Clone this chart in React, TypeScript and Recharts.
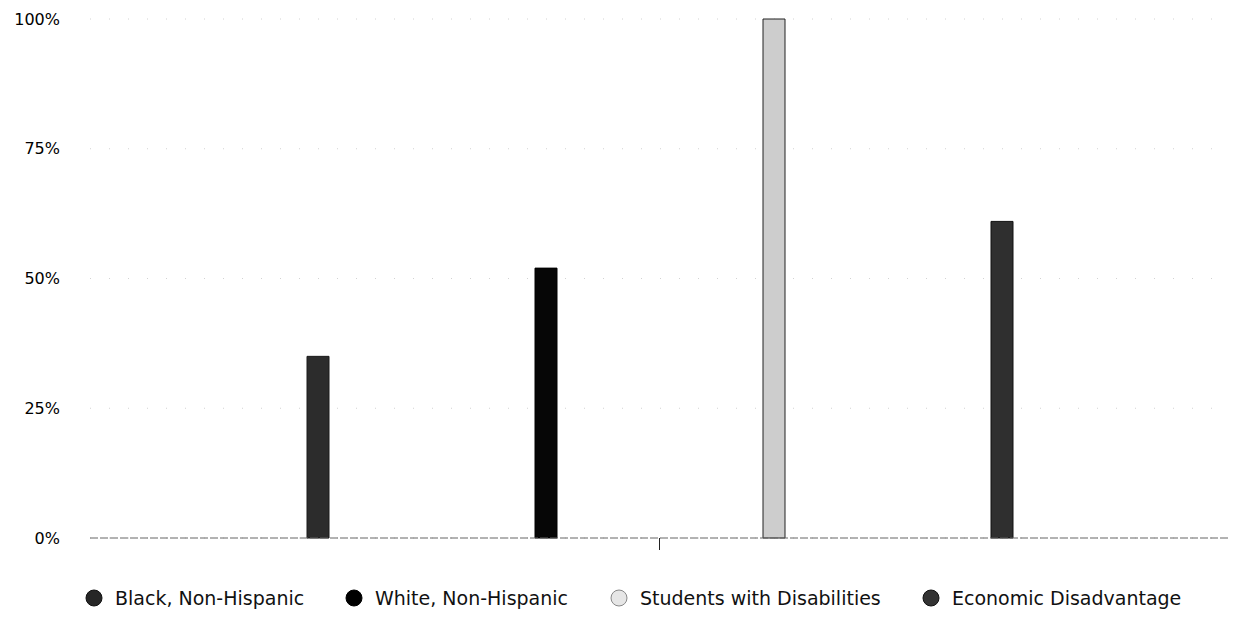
import React from "react";
import { BarChart, Bar, XAxis, YAxis, CartesianGrid, Legend } from "recharts";

const categories = [""];
const seriesNames = ["Black, Non-Hispanic", "White, Non-Hispanic", "Students with Disabilities", "Economic Disadvantage"];
const blackValues = [35];
const whiteValues = [52];
const disabilitiesValues = [100];
const economicValues = [61];
const yTicks = [0, 25, 50, 75, 100];

const seriesValues = [blackValues, whiteValues, disabilitiesValues, economicValues];
const seriesKeys = ["black", "white", "swd", "econ"];
const fills = ["#2c2c2c", "#060606", "#cdcdcd", "#2f2f2f"];
const strokes = ["#1a1a1a", "#000000", "#222222", "#111111"];
const iconFills = ["#262626", "#000000", "#e6e6e6", "#333333"];
const iconStrokes = ["#111", "#000", "#888", "#111"];

const data = categories.map((c, i) => {
  const row: Record<string, string | number> = { name: c };
  seriesKeys.forEach((k, j) => {
    row[k] = seriesValues[j][i];
  });
  return row;
});

const FONT = "'DejaVu Sans', sans-serif";

const LegendContent = () => (
  <div style={{ height: 51, position: "relative", fontFamily: FONT, fontSize: 19, color: "#111" }}>
    {seriesNames.map((n, i) => {
      const lefts = [85, 345, 610, 922];
      return (
        <div key={n} style={{ position: "absolute", left: lefts[i], top: 19, display: "flex", alignItems: "center", whiteSpace: "nowrap" }}>
          <svg width={18} height={18} style={{ marginRight: 12 }}>
            <circle cx={9} cy={9} r={8} fill={iconFills[i]} stroke={iconStrokes[i]} strokeWidth={1} />
          </svg>
          <span>{n}</span>
        </div>
      );
    })}
  </div>
);

const EmptyTick = () => <g />;

export default function App() {
  return (
    <div style={{ position: "absolute", left: 0, top: 0, width: 1240, height: 619, background: "#fff" }}>
      <BarChart
        width={1240}
        height={619}
        data={data}
        margin={{ top: 19, right: 11, bottom: 0, left: 0 }}
        barSize={22}
        barGap={206}
      >
        <CartesianGrid vertical={false} stroke="#d2d2d2" strokeDasharray="1 18" />
        <XAxis
          dataKey="name"
          height={30}
          axisLine={{ stroke: "#666", strokeWidth: 1, strokeDasharray: "8 2" }}
          tickLine={{ stroke: "#222", strokeWidth: 1 }}
          tickSize={12}
          tick={<EmptyTick />}
        />
        <YAxis
          domain={[0, 100]}
          ticks={yTicks}
          width={90}
          axisLine={false}
          tickLine={false}
          tickMargin={24}
          tickFormatter={(v: number) => `${v}%`}
          tick={{ fill: "#000", fontSize: 16, fontFamily: FONT }}
        />
        <Legend verticalAlign="bottom" height={51} content={<LegendContent />} />
        {seriesKeys.map((k, i) => (
          <Bar
            key={k}
            dataKey={k}
            name={seriesNames[i]}
            fill={fills[i]}
            stroke={strokes[i]}
            strokeWidth={1}
            isAnimationActive={false}
          />
        ))}
      </BarChart>
    </div>
  );
}
